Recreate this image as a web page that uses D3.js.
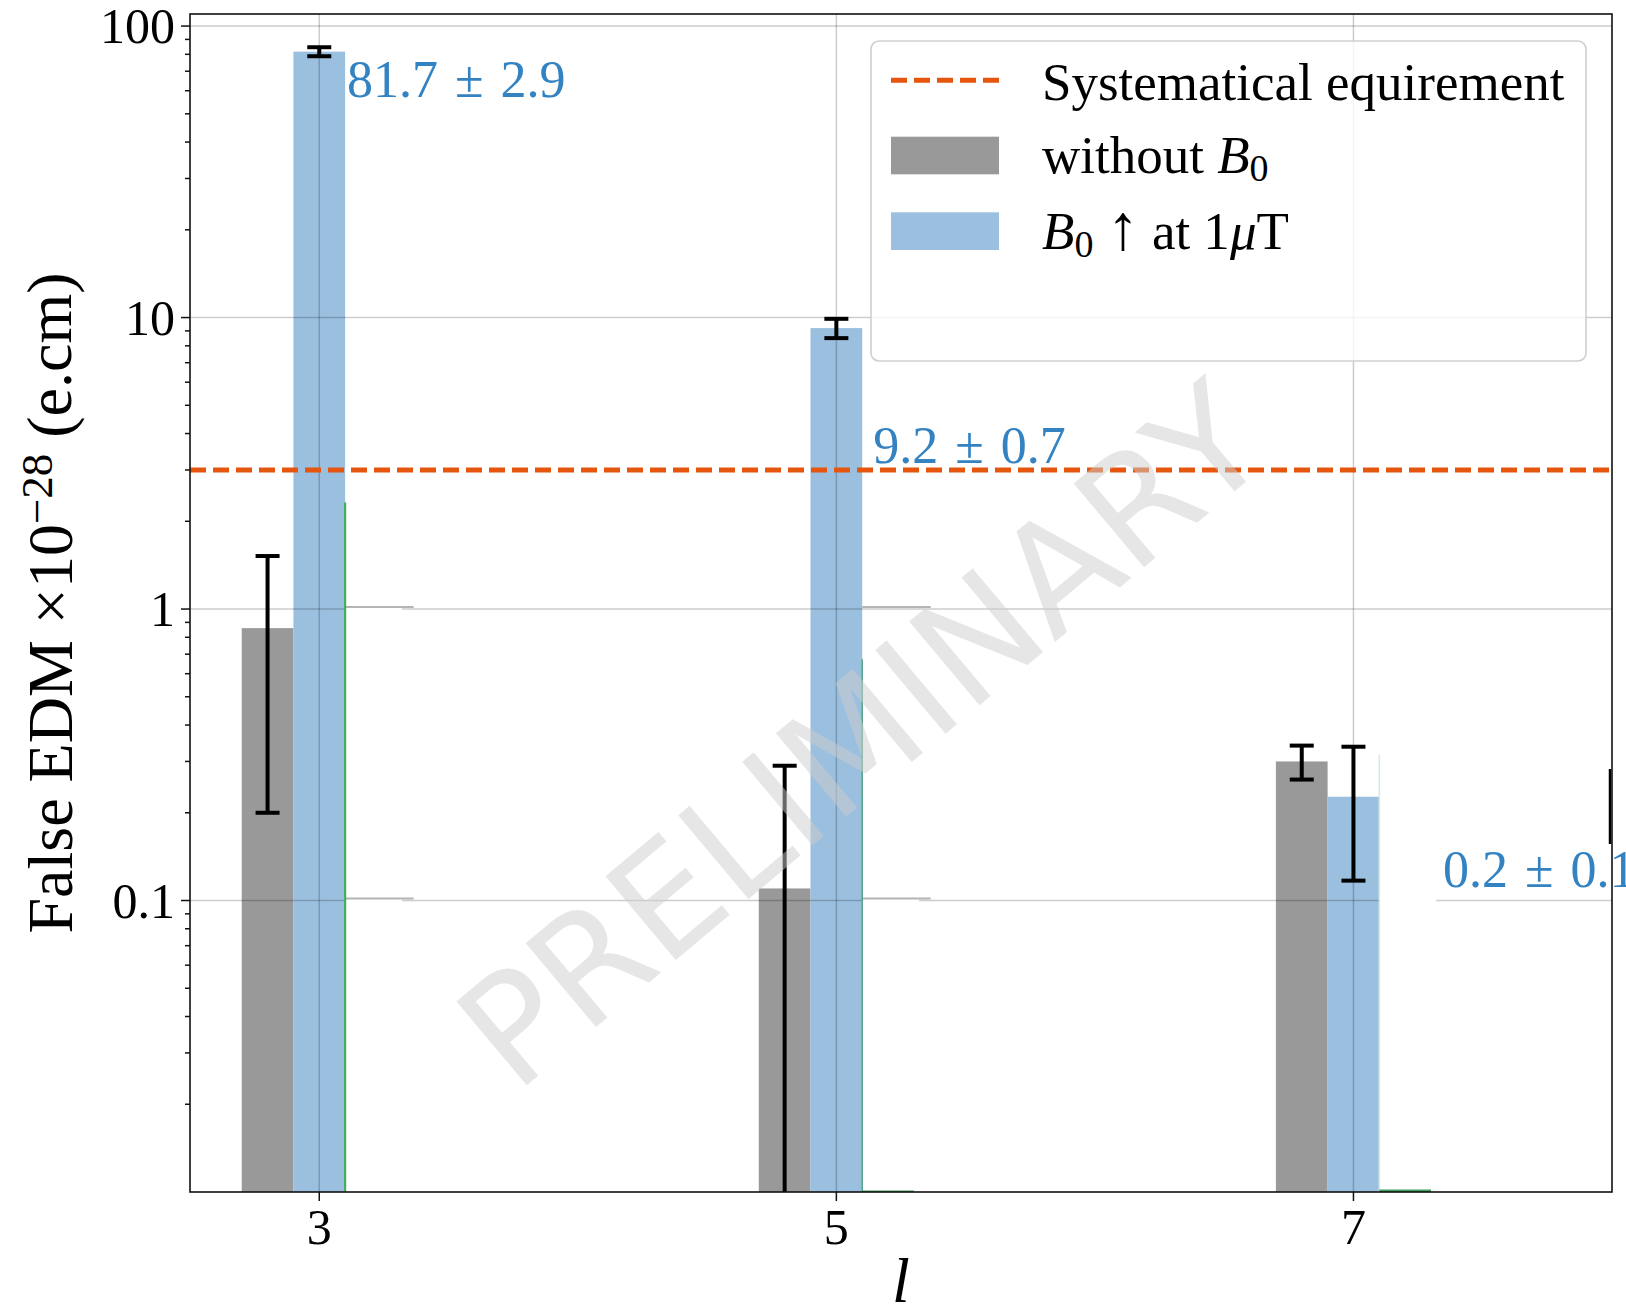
<!DOCTYPE html>
<html>
<head>
<meta charset="utf-8">
<script src="https://cdn.jsdelivr.net/npm/d3@7"></script>
<style>
  body { margin: 0; background: #fff; }
  text { font-family: "Liberation Serif", "Times New Roman", serif; }
</style>
</head>
<body>
<svg id="chart" width="1626" height="1311"></svg>
<script>
// ---- data -------------------------------------------------------------
const orders        = [3, 5, 7];                 // multipole order l
const withoutB0     = [0.86, 0.11, 0.30];        // false EDM, no B0 (x1e-28 e.cm)
const withoutB0Err  = [0.66, 0.18, 0.04];
const withB0        = [81.7, 9.2, 0.227];        // false EDM, B0 up at 1 uT
const withB0Err     = [2.9, 0.7, 0.11];
const requirement   = 3;                         // systematic requirement level
const thirdEdge     = [2.32, 0.672, 0.316];      // remaining edge of the third series
const thirdStub     = [0.01, 0.01012, 0.0102];   // third series at the axis floor
const labelAtL      = [3.107, 5.143, 7.346];     // annotation anchors (data units)
const labelAtV      = [57.3, 3.18, 0.1114];
const xTicks        = [3, 5, 7];
const yTicks        = [0.1, 1, 10, 100];
const yTickLabels   = ["0.1", "1", "10", "100"];

// ---- layout -----------------------------------------------------------
const W = 1626, H = 1311;
const L = 190, R = 1612, T = 14, B = 1192;
const svg = d3.select("#chart");
svg.append("rect").attr("width", W).attr("height", H).attr("fill", "#fff");

const x = d3.scaleLinear().domain([2.5, 8]).range([L, R]);
const y = d3.scaleLog().domain([0.01, 110]).range([B, T]);

const GRAY = "#999999", BLUE = "#9abfdf", ORANGE = "#e6550d", TXTBLUE = "#3383c3";
const half = 0.1;  // half bar width in l units

svg.append("clipPath").attr("id", "plot")
  .append("rect").attr("x", L).attr("y", T).attr("width", R - L).attr("height", B - T);
const g = svg.append("g").attr("clip-path", "url(#plot)");

const rows = orders.map((l, i) => ({
  l, a: withoutB0[i], ae: withoutB0Err[i], b: withB0[i], be: withB0Err[i],
  edge: thirdEdge[i], stub: thirdStub[i]
}));

// bars
g.selectAll("rect.gray").data(rows).join("rect")
  .attr("x", d => x(d.l - 3 * half)).attr("width", d => x(d.l - half) - x(d.l - 3 * half))
  .attr("y", d => y(d.a)).attr("height", d => B - y(d.a)).attr("fill", GRAY);
g.selectAll("rect.blue").data(rows).join("rect")
  .attr("x", d => x(d.l - half)).attr("width", d => x(d.l + half) - x(d.l - half))
  .attr("y", d => y(d.b)).attr("height", d => B - y(d.b)).attr("fill", BLUE);

// grid (drawn above the bars)
const grid = g.append("g").attr("stroke", "#000").attr("stroke-opacity", 0.2).attr("stroke-width", 1.5);
grid.selectAll("line.h").data(yTicks).join("line")
  .attr("x1", L).attr("x2", R).attr("y1", d => y(d)).attr("y2", d => y(d));
grid.selectAll("line.v").data(xTicks).join("line")
  .attr("x1", d => x(d)).attr("x2", d => x(d)).attr("y1", T).attr("y2", B);

// blanked region beside each B0 bar, with the grid segments that sit on it
g.selectAll("rect.blank").data(rows).join("rect")
  .attr("x", d => x(d.l + half) + 1).attr("width", d => x(d.l + 0.32) - x(d.l + half) - 1)
  .attr("y", d => y(d.edge)).attr("height", d => B - y(d.edge) - 1).attr("fill", "#fff");
const ghost = [];
rows.slice(0, 2).forEach(d => [1, 0.1].forEach(v => ghost.push({ l: d.l, v })));
g.selectAll("line.ghost").data(ghost).join("line")
  .attr("x1", d => x(d.l + half)).attr("x2", d => x(d.l + 0.365))
  .attr("y1", d => y(d.v) - 2).attr("y2", d => y(d.v) - 2)
  .attr("stroke", "#b4b4b4").attr("stroke-width", 2);

// third series remnants
g.selectAll("line.edge").data(rows).join("line")
  .attr("x1", d => x(d.l + half)).attr("x2", d => x(d.l + half))
  .attr("y1", d => y(d.edge)).attr("y2", B)
  .attr("stroke", (d, i) => ["#46ad5e", "#5aa88a", "#d3ebda"][i])
  .attr("stroke-width", (d, i) => i === 0 ? 2.2 : 1.6);
g.selectAll("rect.stub").data(rows).join("rect")
  .attr("x", d => x(d.l + half)).attr("width", d => x(d.l + 3 * half) - x(d.l + half))
  .attr("y", d => y(d.stub)).attr("height", d => B - y(d.stub)).attr("fill", "#3f9f5c");

// requirement line
g.append("line").attr("x1", L).attr("x2", R)
  .attr("y1", y(requirement)).attr("y2", y(requirement))
  .attr("stroke", ORANGE).attr("stroke-width", 5).attr("stroke-dasharray", "16,7");

// watermark
svg.append("text").text("PRELIMINARY")
  .attr("transform", "translate(862,736) rotate(-40)")
  .attr("text-anchor", "middle").attr("dominant-baseline", "central")
  .style("font-family", "'DejaVu Sans', sans-serif").style("font-size", "150px")
  .attr("fill", "#cdcdcd").attr("fill-opacity", 0.5);

// error bars
function errorBars(cx, val, err) {
  const eb = g.append("g").attr("stroke", "#000").attr("stroke-width", 4);
  const lo = d => y(Math.max(val(d) - err(d), 0.001));
  eb.selectAll("line.s").data(rows).join("line")
    .attr("x1", d => x(cx(d))).attr("x2", d => x(cx(d)))
    .attr("y1", d => y(val(d) + err(d))).attr("y2", lo);
  eb.selectAll("line.t").data(rows).join("line")
    .attr("x1", d => x(cx(d)) - 12).attr("x2", d => x(cx(d)) + 12)
    .attr("y1", d => y(val(d) + err(d))).attr("y2", d => y(val(d) + err(d)));
  eb.selectAll("line.b").data(rows.filter(d => val(d) - err(d) > 0)).join("line")
    .attr("x1", d => x(cx(d)) - 12).attr("x2", d => x(cx(d)) + 12)
    .attr("y1", lo).attr("y2", lo);
}
errorBars(d => d.l - 2 * half, d => d.a, d => d.ae);
errorBars(d => d.l, d => d.b, d => d.be);

// spines
const sp = svg.append("g").attr("stroke", "#111").attr("stroke-width", 1.6).attr("fill", "none");
sp.append("rect").attr("x", L).attr("y", T).attr("width", R - L).attr("height", B - T);
sp.append("line").attr("x1", R - 2).attr("x2", R - 2).attr("y1", 769).attr("y2", 844)
  .attr("stroke", "#000").attr("stroke-width", 2.5);

// y axis ticks
const minor = [];
[0.01, 0.1, 1, 10].forEach(dec => { for (let k = 2; k <= 9; k++) minor.push(k * dec); });
const ax = svg.append("g").attr("stroke", "#111").attr("stroke-width", 1.5);
ax.selectAll("line.ym").data(minor).join("line")
  .attr("x1", L - 5).attr("x2", L).attr("y1", d => y(d)).attr("y2", d => y(d));
ax.selectAll("line.yM").data(yTicks).join("line")
  .attr("x1", L - 9).attr("x2", L).attr("y1", d => y(d)).attr("y2", d => y(d));
ax.selectAll("line.xM").data(xTicks).join("line")
  .attr("x1", d => x(d)).attr("x2", d => x(d)).attr("y1", B).attr("y2", B + 9);

svg.selectAll("text.yt").data(yTicks).join("text")
  .attr("x", L - 15).attr("y", d => y(d)).attr("dy", "0.34em")
  .attr("text-anchor", "end").style("font-size", "50px").attr("fill", "#000")
  .text((d, i) => yTickLabels[i]);
svg.selectAll("text.xt").data(xTicks).join("text")
  .attr("x", d => x(d)).attr("y", 1244)
  .attr("text-anchor", "middle").style("font-size", "50px").attr("fill", "#000")
  .text(d => d);

// axis titles
const yl = svg.append("text").attr("transform", "translate(72,603) rotate(-90)")
  .attr("text-anchor", "middle").style("font-size", "64px").attr("fill", "#000");
yl.append("tspan").text("False EDM \u00d710");
yl.append("tspan").attr("dy", "-0.45em").style("font-size", "45px").text("\u221228");
yl.append("tspan").attr("dy", "0.3em").text(" (e.cm)");

svg.append("text").attr("x", (L + R) / 2).attr("y", 1302)
  .attr("text-anchor", "middle").style("font-size", "64px").style("font-style", "italic")
  .text("l");

// value annotations
svg.selectAll("text.ann").data(rows).join("text")
  .attr("x", (d, i) => x(labelAtL[i])).attr("y", (d, i) => y(labelAtV[i]))
  .style("font-size", "52px").style("word-spacing", "4px").attr("fill", TXTBLUE)
  .text(d => `${d3.format(".1f")(d.b)} \u00b1 ${d3.format(".1f")(d.be)}`);

// legend
const lg = svg.append("g");
lg.append("rect").attr("x", 871).attr("y", 41).attr("width", 715).attr("height", 320)
  .attr("rx", 8).attr("fill", "#fff").attr("fill-opacity", 0.8)
  .attr("stroke", "#cfcfcf").attr("stroke-width", 1.6);
lg.append("line").attr("x1", 891).attr("x2", 999).attr("y1", 80.3).attr("y2", 80.3)
  .attr("stroke", ORANGE).attr("stroke-width", 5).attr("stroke-dasharray", "16,7");
lg.append("rect").attr("x", 891).attr("y", 136.7).attr("width", 108).attr("height", 37.6).attr("fill", GRAY);
lg.append("rect").attr("x", 891).attr("y", 212.3).attr("width", 108).attr("height", 37.7).attr("fill", BLUE);
const lt = lg.append("g").style("font-size", "53px").attr("fill", "#000");
lt.append("text").attr("x", 1042).attr("y", 100).text("Systematical equirement");
const t2 = lt.append("text").attr("x", 1042).attr("y", 172.7);
t2.append("tspan").text("without ");
t2.append("tspan").style("font-style", "italic").text("B");
t2.append("tspan").attr("dy", 8).style("font-size", "38px").text("0");
const t3 = lt.append("text").attr("x", 1042).attr("y", 249.3);
t3.append("tspan").style("font-style", "italic").text("B");
t3.append("tspan").attr("dy", 8).style("font-size", "38px").text("0");
t3.append("tspan").attr("dy", -8).text(" ");
t3.append("tspan").style("font-size", "64px").text("\u2191");
t3.append("tspan").text(" at 1");
t3.append("tspan").style("font-style", "italic").text("\u03bc");
t3.append("tspan").text("T");
</script>
</body>
</html>
